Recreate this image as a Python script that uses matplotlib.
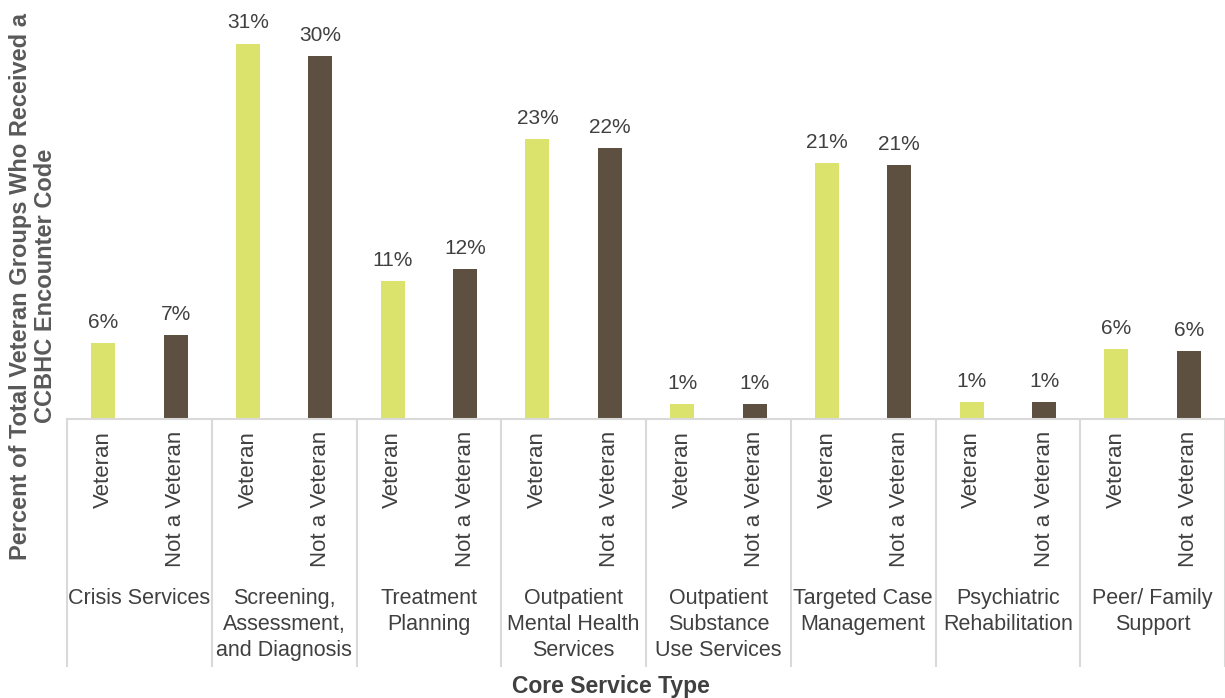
import numpy as np
import matplotlib.pyplot as plt
from matplotlib.transforms import blended_transform_factory

# Share of each veteran group receiving each CCBHC core service (percent)
services = ["Crisis Services", "Screening,\nAssessment,\nand Diagnosis", "Treatment\nPlanning",
            "Outpatient\nMental Health\nServices", "Outpatient\nSubstance\nUse Services",
            "Targeted Case\nManagement", "Psychiatric\nRehabilitation", "Peer/ Family\nSupport"]
groups = ["Veteran", "Not a Veteran"]
veteran = [6.3, 31.0, 11.4, 23.1, 1.2, 21.1, 1.4, 5.8]
not_veteran = [6.9, 30.0, 12.4, 22.4, 1.2, 21.0, 1.4, 5.6]

lime = "#dce36d"
brown = "#5d5040"
txt = "#404040"
sep = "#d9d9d9"
font = "Liberation Sans"

fig = plt.figure(figsize=(12.25, 6.98), dpi=100)
ax = fig.add_axes([67 / 1225, 1 - 419 / 698, 1 - 67 / 1225, 419 / 698])

n = len(services)
x = np.arange(n)
width = 0.165
b1 = ax.bar(x + 0.25, veteran, width, color=lime)
b2 = ax.bar(x + 0.75, not_veteran, width, color=brown)

for bars, vals in ((b1, veteran), (b2, not_veteran)):
    for b, v in zip(bars, vals):
        ax.annotate(f"{v:.0f}%", (b.get_x() + b.get_width() / 2, v),
                    xytext=(0, 8), textcoords="offset points",
                    ha="center", va="bottom", fontsize=15, color=txt, family=font)

ax.set_xlim(0, n)
ax.set_ylim(0, 34.6)
ax.set_xticks([])
ax.set_yticks([])
for s in ax.spines.values():
    s.set_visible(False)
ax.axhline(0, color=sep, lw=1.5, clip_on=False)

# Multi-level category axis below the bars
trans = blended_transform_factory(ax.transData, fig.transFigure)
sep_bottom = 1 - 666 / 698
for i in range(n + 1):
    ax.plot([i, i], [1 - 419 / 698, sep_bottom], color=sep, lw=1.5,
            transform=trans, clip_on=False)
for i in range(n):
    for j, g in enumerate(groups):
        ax.text(i + 0.25 + 0.5 * j, 1 - 431 / 698, g, rotation=90, ha="center", va="top",
                fontsize=16, color=txt, transform=trans, family=font)
    ax.text(i + 0.5, 1 - 588 / 698, services[i], ha="center", va="top",
            fontsize=15.5, color=txt, transform=trans, family=font, linespacing=1.3)

fig.text(611 / 1225, 1 - 686 / 698, "Core Service Type", ha="center", va="center",
         fontsize=16.5, fontweight="bold", color=txt, family=font)
fig.text(33 / 1225, 1 - 286 / 698,
         "Percent of Total Veteran Groups Who Received a\nCCBHC Encounter Code",
         rotation=90, ha="center", va="center", fontsize=17, fontweight="bold",
         color="#595959", family=font, linespacing=1.1)

fig.savefig("out.png", dpi=100)
